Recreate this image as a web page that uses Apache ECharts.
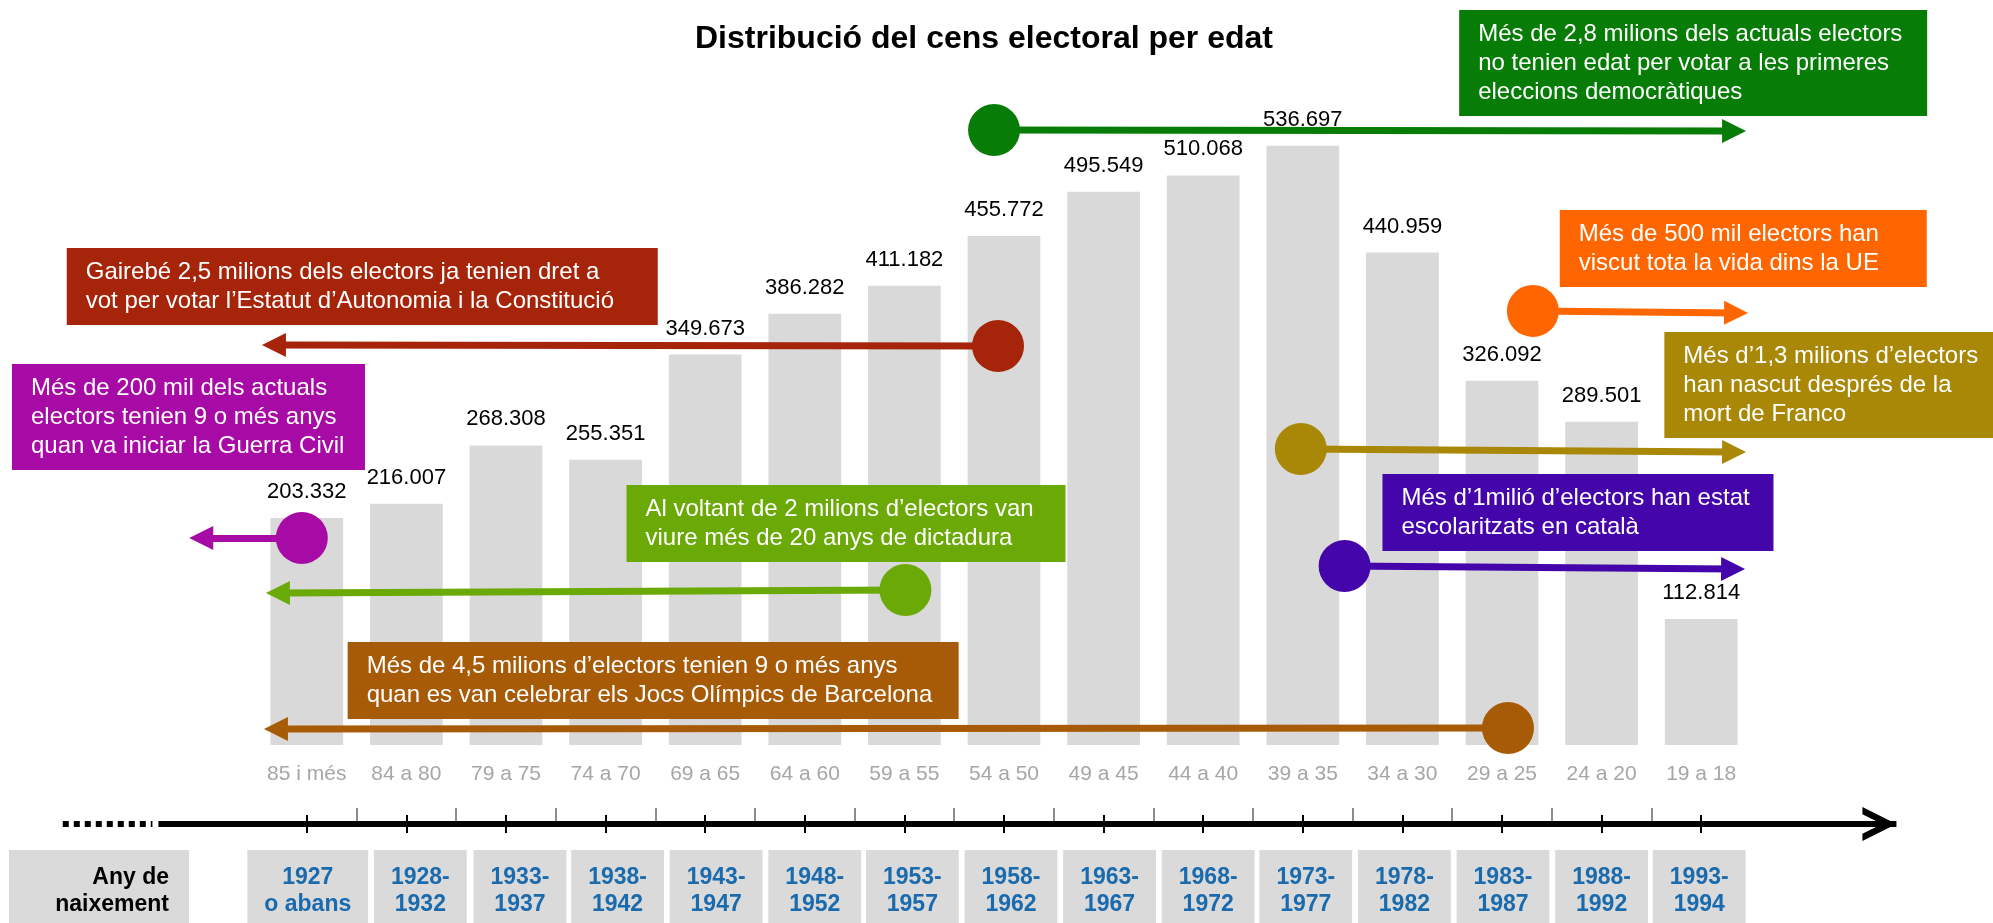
<!DOCTYPE html>
<html>
<head>
<meta charset="utf-8">
<title>Distribució del cens electoral per edat</title>
<script src="https://cdn.jsdelivr.net/npm/echarts@6.0.0/dist/echarts.min.js"></script>
<style>
  html, body { margin: 0; padding: 0; background: #fff; }
  #chart { width: 1993px; height: 923px; }
</style>
</head>
<body>
<div id="chart"></div>
<script>
// age groups and number of electors in each one
const ageGroups = ["85 i més", "84 a 80", "79 a 75", "74 a 70", "69 a 65", "64 a 60", "59 a 55",
  "54 a 50", "49 a 45", "44 a 40", "39 a 35", "34 a 30", "29 a 25", "24 a 20", "19 a 18"];
const electors = [203332, 216007, 268308, 255351, 349673, 386282, 411182,
  455772, 495549, 510068, 536697, 440959, 326092, 289501, 112814];
// birth years shown under the timeline
const birthYears = ["1927\no abans", "1928-\n1932", "1933-\n1937", "1938-\n1942", "1943-\n1947",
  "1948-\n1952", "1953-\n1957", "1958-\n1962", "1963-\n1967", "1968-\n1972", "1973-\n1977",
  "1978-\n1982", "1983-\n1987", "1988-\n1992", "1993-\n1994"];

// annotation texts
const noteTexts = [
  ["Més de 2,8 milions dels actuals electors", "no tenien edat per votar a les primeres", "eleccions democràtiques"],
  ["Més de 500 mil electors han", "viscut tota la vida dins la UE"],
  ["Gairebé 2,5 milions dels electors ja tenien dret a", "vot per votar l’Estatut d’Autonomia i la Constitució"],
  ["Més d’1,3 milions d’electors", "han nascut després de la", "mort de Franco"],
  ["Més de 200 mil dels actuals", "electors tenien 9 o més anys", "quan va iniciar la Guerra Civil"],
  ["Més d’1milió d’electors han estat", "escolaritzats en català"],
  ["Al voltant de 2 milions d’electors van", "viure més de 20 anys de dictadura"],
  ["Més de 4,5 milions d’electors tenien 9 o més anys", "quan es van celebrar els Jocs Olímpics de Barcelona"]
];

// layout of the annotations: x in category units, y in thousands of electors
const noteLayout = [
  { color: "#077d07", box: [11.57, 658.2], w: 468, from: [6.90, 550.7], to: [14.33, 549.8] },
  { color: "#ff6600", box: [12.58, 479.1], w: 367, from: [12.31, 388.7], to: [14.35, 386.9] },
  { color: "#a6250a", box: [-2.41, 445.1], w: 591, from: [6.94, 357.3], to: [-0.33, 358.2] },
  { color: "#a98807", box: [13.63, 369.8], w: 345, from: [9.98, 265.1], to: [14.33, 262.4] },
  { color: "#a70aa5", box: [-2.96, 341.2], w: 353, from: [-0.05, 185.4], to: [-1.06, 185.4] },
  { color: "#4406aa", box: [10.80, 242.7], w: 391, from: [10.42, 160.3], to: [14.32, 157.6] },
  { color: "#6aa906", box: [3.21, 232.8], w: 439, from: [6.01, 138.8], to: [-0.29, 136.1] },
  { color: "#a85b06", box: [0.41, 92.2], w: 611, from: [12.06, 15.2], to: [-0.31, 14.3] }
];

// centres of the birth-year cells (they sit on their own grid, slightly off the bars)
const yearCellPos = [0.01, 1.14, 2.14, 3.12, 4.11, 5.10, 6.08, 7.07, 8.06, 9.05, 10.03, 11.02, 12.01, 13.0, 13.98];

const FONT = '"Liberation Sans", Arial, sans-serif';
const W = 1993, H = 923;
const BAR_LEFT = 257, PITCH = 99.6, BASE_Y = 745, TOP_Y = 75, Y_MAX = 600000;

// overlay axes that share the bar scales but cover the whole canvas
const kPerPx = Y_MAX / 1000 / (BASE_Y - TOP_Y);
const ovXMin = -0.5 - BAR_LEFT / PITCH;
const ovXMax = ovXMin + W / PITCH;
const ovYMin = -(H - BASE_Y) * kPerPx;
const ovYMax = BASE_Y * kPerPx;
const timelineY = -70.7;

// open arrow head for the timeline, tip at the centre of its box
const CHEVRON = "path://M-17,-34 L-17,-34 M51,34 L51,34 M0,34 L17,0 L34,34 L26.7,34 L17,14.5 L7.3,34 Z";

const fmt = (v) => String(v).replace(/\B(?=(\d{3})+(?!\d))/g, ".");

const boundaries = ageGroups.slice(1).map((_, i) => i + 0.5);
const centers = ageGroups.map((_, i) => i);

const noteSeries = noteLayout.map((n, i) => ({
  type: "scatter",
  xAxisIndex: 1,
  yAxisIndex: 1,
  z: 5,
  silent: true,
  symbolSize: 0,
  itemStyle: { opacity: 1 },
  data: [n.box],
  label: {
    show: true,
    position: [0, 0],
    opacity: 1,
    formatter: noteTexts[i].join("\n"),
    backgroundColor: n.color,
    color: "#fff",
    fontFamily: FONT,
    fontSize: 24,
    lineHeight: 29,
    padding: [10, 19, 9, 19],
    width: n.w - 38,
  },
  markLine: {
    silent: true,
    label: { show: false },
    lineStyle: { color: n.color, width: 7, type: "solid", opacity: 1 },
    data: [[
      { coord: n.from, symbol: "circle", symbolSize: 52 },
      { coord: n.to, symbol: "triangle", symbolSize: 24 },
    ]],
  },
}));

const chart = echarts.init(document.getElementById("chart"));

chart.setOption({
  animation: false,
  backgroundColor: "#fff",
  textStyle: { fontFamily: FONT },
  title: {
    text: "Distribució del cens electoral per edat",
    left: 695,
    top: 23,
    padding: 0,
    textStyle: { fontSize: 32, fontWeight: "bold", color: "#000", fontFamily: FONT },
  },
  grid: [
    { left: BAR_LEFT, top: TOP_Y, width: PITCH * ageGroups.length, height: BASE_Y - TOP_Y, outerBoundsMode: "none" },
    { left: 0, top: 0, width: W, height: H, outerBoundsMode: "none" },
    { left: BAR_LEFT, top: 823, width: PITCH * ageGroups.length, height: 1, outerBoundsMode: "none" },
  ],
  xAxis: [
    {
      gridIndex: 0,
      type: "category",
      data: ageGroups,
      axisLine: { show: false },
      axisTick: { show: false },
      axisLabel: { interval: 0, margin: 19, fontSize: 21, color: "#a6a6a6", fontFamily: FONT },
    },
    { gridIndex: 1, type: "value", min: ovXMin, max: ovXMax, show: false },
    {
      // birth-year cells below the timeline, black ticks under the line
      gridIndex: 2,
      type: "value",
      position: "bottom",
      min: -0.5,
      max: 14.5,
      axisLine: { show: false },
      splitLine: { show: false },
      axisTick: { show: true, customValues: centers, length: 9, lineStyle: { color: "#000", width: 2 } },
      axisLabel: {
        customValues: yearCellPos,
        formatter: (v) => birthYears[Math.round(v)],
        margin: 26,
        fontSize: 23,
        fontWeight: "bold",
        color: "#1a6aae",
        lineHeight: 27,
        fontFamily: FONT,
        backgroundColor: "#dadada",
        padding: [14, 17, 10, 17],
      },
    },
    {
      gridIndex: 2,
      type: "value",
      position: "top",
      min: -0.5,
      max: 14.5,
      axisLine: { show: false },
      splitLine: { show: false },
      axisLabel: { show: false },
      axisTick: { show: true, customValues: boundaries, length: 15, lineStyle: { color: "#8c8c8c", width: 2 } },
    },
    {
      gridIndex: 2,
      type: "value",
      position: "top",
      min: -0.5,
      max: 14.5,
      axisLine: { show: false },
      splitLine: { show: false },
      axisLabel: { show: false },
      axisTick: { show: true, customValues: centers, length: 8, lineStyle: { color: "#000", width: 2 } },
    },
  ],
  yAxis: [
    { gridIndex: 0, type: "value", min: 0, max: Y_MAX, show: false },
    { gridIndex: 1, type: "value", min: ovYMin, max: ovYMax, show: false },
    { gridIndex: 2, type: "value", show: false },
  ],
  graphic: [
    { type: "rect", left: 9, top: 850, shape: { width: 180, height: 80 }, style: { fill: "#dadada" } },
    {
      type: "text",
      x: 169,
      y: 864,
      style: {
        text: "Any de\nnaixement",
        align: "right",
        verticalAlign: "top",
        fill: "#000",
        font: 'bold 23px "Liberation Sans", Arial, sans-serif',
        lineHeight: 27,
      },
    },
  ],
  series: [
    {
      type: "bar",
      xAxisIndex: 0,
      yAxisIndex: 0,
      data: electors,
      barCategoryGap: "27%",
      silent: true,
      itemStyle: { color: "#d9d9d9" },
      label: {
        show: true,
        position: "top",
        distance: 15,
        fontSize: 22,
        color: "#000",
        fontFamily: FONT,
        formatter: (p) => fmt(p.value),
      },
    },
    {
      // timeline line with dotted start and open arrow
      type: "scatter",
      xAxisIndex: 1,
      yAxisIndex: 1,
      z: 3,
      silent: true,
      data: [],
      markLine: {
        silent: true,
        label: { show: false },
        symbol: "none",
        lineStyle: { color: "#000", width: 6, type: "solid", opacity: 1 },
        data: [
          [
            { coord: [-2.45, timelineY], symbol: "none", lineStyle: { type: [6, 5] } },
            { coord: [-1.55, timelineY], symbol: "none", lineStyle: { type: [6, 5] } },
          ],
          [
            { coord: [-1.49, timelineY], symbol: "none" },
            { coord: [15.96, timelineY], symbol: CHEVRON, symbolSize: 68 },
          ],
        ],
      },
    },
    ...noteSeries,
  ],
});
</script>
</body>
</html>
